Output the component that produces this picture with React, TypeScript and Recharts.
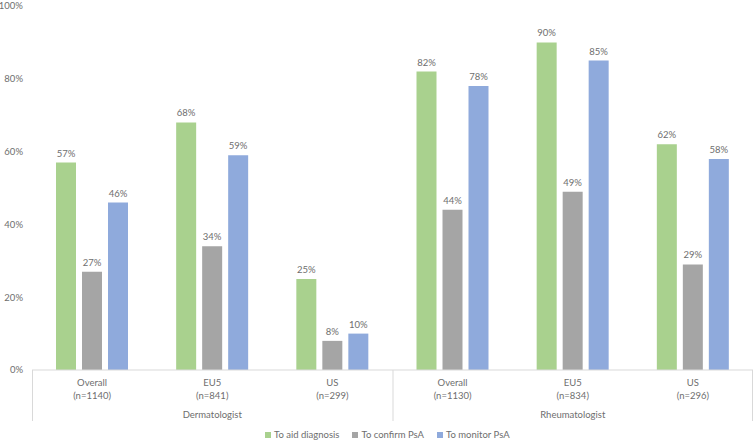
import { Bar, BarChart, LabelList, XAxis, YAxis } from "recharts";

const subgroups = ["Overall", "EU5", "US", "Overall", "EU5", "US"];
const sampleSizes = ["(n=1140)", "(n=841)", "(n=299)", "(n=1130)", "(n=834)", "(n=296)"];
const specialties = ["Dermatologist", "Rheumatologist"];
const aidDiagnosis = [57, 68, 25, 82, 90, 62];
const confirmPsA = [27, 34, 8, 44, 49, 29];
const monitorPsA = [46, 59, 10, 78, 85, 58];
const yTicks = [0, 20, 40, 60, 80, 100];

const W = 755;
const H = 441;
const AXIS_W = 32;
const RIGHT = 2;
const FONT = "Lato, 'Liberation Sans', sans-serif";
const TEXT = "#6e6e6e";
const LINE = "#d9d9d9";

const series = [
	{ key: "aid", name: "To aid diagnosis", color: "#a9d18e" },
	{ key: "confirm", name: "To confirm PsA", color: "#a5a5a5" },
	{ key: "monitor", name: "To monitor PsA", color: "#8faadc" },
];

const chartData = subgroups.map((s, i) => ({
	name: `${s}|${i}`,
	aid: aidDiagnosis[i],
	confirm: confirmPsA[i],
	monitor: monitorPsA[i],
}));

const band = (W - AXIS_W - RIGHT) / subgroups.length;

function CategoryTick(props: any) {
	const { x, y, index } = props;
	const per = subgroups.length / specialties.length;
	const posInGroup = index % per;
	return (
		<g>
			<text x={x} y={y + 16} textAnchor="middle" fontSize={9.5} fill={TEXT} fontFamily={FONT}>
				{subgroups[index]}
			</text>
			<text x={x} y={y + 29} textAnchor="middle" fontSize={9.5} fill={TEXT} fontFamily={FONT}>
				{sampleSizes[index]}
			</text>
			{posInGroup === 1 && (
				<text x={x} y={y + 47.5} textAnchor="middle" fontSize={9.5} fill={TEXT} fontFamily={FONT}>
					{specialties[Math.floor(index / per)]}
				</text>
			)}
			{posInGroup === 0 && (
				<line x1={x - band / 2 + 0.5} x2={x - band / 2 + 0.5} y1={y} y2={y + 51} stroke={LINE} />
			)}
			{index === subgroups.length - 1 && (
				<line x1={x + band / 2 - 0.5} x2={x + band / 2 - 0.5} y1={y} y2={y + 51} stroke={LINE} />
			)}
		</g>
	);
}

export default function App() {
	return (
		<div style={{ position: "absolute", left: 0, top: 0, width: W, height: H, background: "#fff" }}>
			<BarChart
				width={W}
				height={H}
				data={chartData}
				margin={{ top: 6, right: RIGHT, left: 0, bottom: 0 }}
				barSize={20}
				barGap={6}
			>
				<YAxis
					width={AXIS_W}
					domain={[0, 100]}
					ticks={yTicks}
					tickFormatter={(v) => `${v}%`}
					axisLine={false}
					tickLine={false}
					tickSize={0}
					tickMargin={9}
					tick={{ fontSize: 9.5, fill: TEXT, fontFamily: FONT }}
				/>
				<XAxis
					dataKey="name"
					height={71}
					axisLine={{ stroke: LINE }}
					tickLine={false}
					tickSize={0}
					tickMargin={0}
					interval={0}
					tick={<CategoryTick />}
				/>
				{series.map((s) => (
					<Bar key={s.key} dataKey={s.key} name={s.name} fill={s.color} isAnimationActive={false}>
						<LabelList
							dataKey={s.key}
							position="top"
							offset={6}
							formatter={(v: any) => `${v}%`}
							style={{ fontSize: 9.5, fill: TEXT, fontFamily: FONT }}
						/>
					</Bar>
				))}
			</BarChart>
			<div
				style={{
					position: "absolute",
					left: 265,
					top: 429,
					display: "flex",
					gap: 13,
					fontFamily: FONT,
					fontSize: 9.5,
					color: TEXT,
					lineHeight: "11px",
					whiteSpace: "nowrap",
				}}
			>
				{series.map((s) => (
					<div key={s.key} style={{ display: "flex", alignItems: "center", gap: 3 }}>
						<span style={{ width: 6, height: 6, background: s.color, display: "inline-block" }} />
						<span>{s.name}</span>
					</div>
				))}
			</div>
		</div>
	);
}
